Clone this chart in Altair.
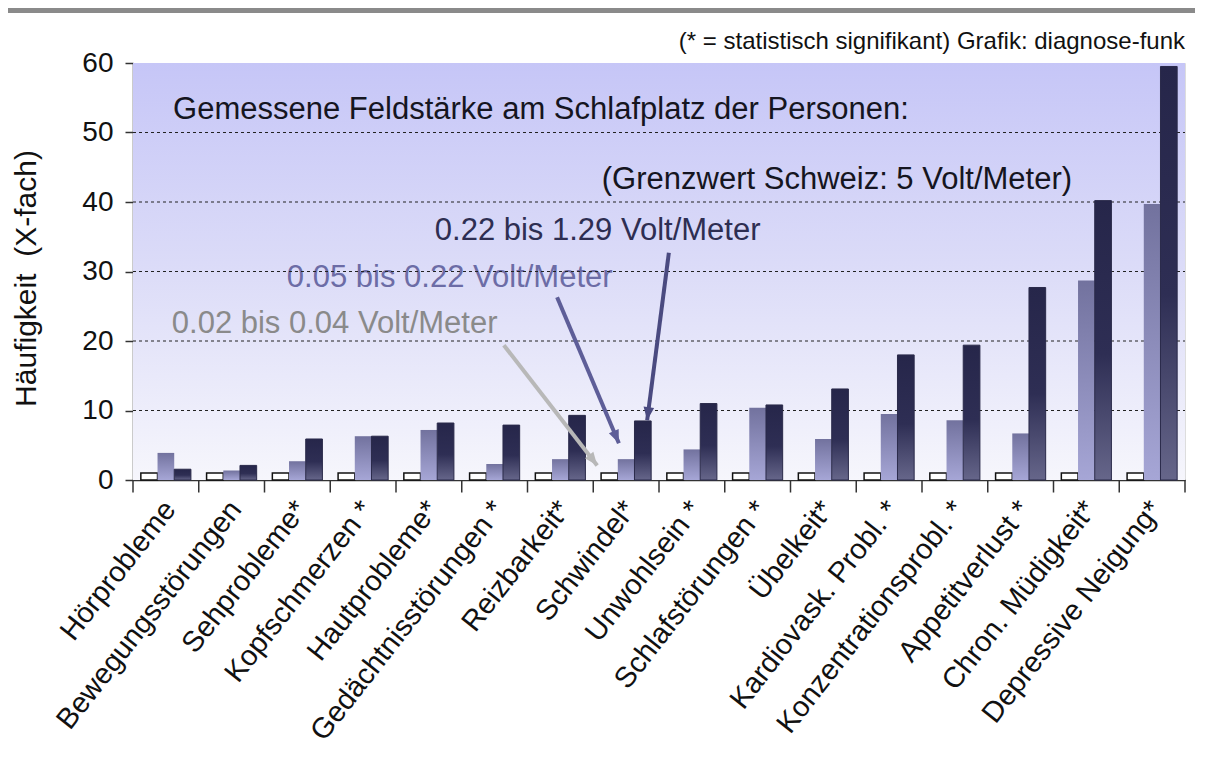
import math
import altair as alt
import pandas as pd

# ---------------- data ----------------
categories = ["Hörprobleme", "Bewegungsstörungen", "Sehprobleme*", "Kopfschmerzen *",
              "Hautprobleme*", "Gedächtnisstörungen *", "Reizbarkeit*", "Schwindel*",
              "Unwohlsein *", "Schlafstörungen *", "Übelkeit*", "Kardiovask. Probl. *",
              "Konzentrationsprobl. *", "Appetitverlust *", "Chron. Müdigkeit*",
              "Depressive Neigung*"]
series = ["0.02 bis 0.04 Volt/Meter", "0.05 bis 0.22 Volt/Meter", "0.22 bis 1.29 Volt/Meter"]
low_vals = [1, 1, 1, 1, 1, 1, 1, 1, 1, 1, 1, 1, 1, 1, 1, 1]
mid_vals = [3.9, 1.35, 2.7, 6.3, 7.2, 2.3, 3.0, 3.0, 4.4, 10.4, 5.9, 9.5, 8.6, 6.7, 28.7, 39.7]
high_vals = [1.55, 2.1, 5.9, 6.3, 8.2, 7.9, 9.3, 8.5, 11.0, 10.8, 13.1, 18.0, 19.4, 27.7, 40.2, 59.5]
y_ticks = [0, 10, 20, 30, 40, 50, 60]
grid_vals = [10, 20, 30, 40, 50]

# annotation texts (position in category units / value units)
note_texts = ["Gemessene Feldstärke am Schlafplatz der Personen:",
              "(Grenzwert Schweiz: 5 Volt/Meter)",
              "0.22 bis 1.29 Volt/Meter",
              "0.05 bis 0.22 Volt/Meter",
              "0.02 bis 0.04 Volt/Meter"]
note_u = [0.61, 7.13, 4.59, 2.34, 0.59]
note_v = [52.0, 41.9, 34.6, 27.8, 21.1]
source_text = "(* = statistisch signifikant) Grafik: diagnose-funk"

# arrows: start (u, v) -> tip (u, v)
arrow_u1 = [8.15, 6.45, 5.64]
arrow_v1 = [32.7, 26.3, 19.4]
arrow_u2 = [7.82, 7.39, 7.06]
arrow_v2 = [8.6, 5.3, 2.1]

# ---------------- layout ----------------
W, H = 1052, 417
N = len(categories)
PX_U = W / N
PX_V = H / 60.0
FONT = "Liberation Sans"

rows = []
for i, c in enumerate(categories):
    rows.append({"cat": c, "series": series[0], "v": low_vals[i]})
    rows.append({"cat": c, "series": series[1], "v": mid_vals[i]})
    rows.append({"cat": c, "series": series[2], "v": high_vals[i]})
df = pd.DataFrame(rows)

yscale = alt.Scale(domain=[0, 60], nice=False, zero=True)
yaxis = alt.Axis(values=y_ticks, grid=False, tickSize=8, tickColor="#333", tickWidth=1.5,
                 domainColor="#333", domainWidth=1.5, labelFontSize=28, labelFont=FONT,
                 labelColor="#111", labelPadding=12, title="Häufigkeit\u00a0\u00a0(X-fach)",
                 titleFont=FONT, titleFontSize=30, titleFontWeight="normal", titleColor="#111",
                 titleAngle=270, titleAlign="center", titleBaseline="alphabetic",
                 titleX=-98, titleY=215)

def Y(field="v"):
    return alt.Y(f"{field}:Q", scale=yscale, axis=yaxis)

uscale = alt.Scale(domain=[0, N], nice=False, zero=False)

def U(field="u"):
    return alt.X(f"{field}:Q", scale=uscale, axis=None)

# page frame (grey band at top)
frame = alt.Chart(pd.DataFrame({"u": [0]})).mark_rect(color="#8a8a8a").encode(
    x=alt.value(-125), x2=alt.value(W + 10), y=alt.value(-55), y2=alt.value(-50))

# background gradient
bg = alt.Chart(pd.DataFrame({"u": [0], "u2": [N], "v": [0], "v2": [60]})).mark_rect(
    fill={"gradient": "linear", "x1": 0, "y1": 0, "x2": 0, "y2": 1,
          "stops": [{"offset": 0, "color": "#c6c6f7"},
                    {"offset": 0.5, "color": "#dcdcf8"},
                    {"offset": 1, "color": "#f6f6fc"}]}
).encode(x=U("u"), x2="u2:Q", y=Y("v"), y2="v2:Q")

grid = alt.Chart(pd.DataFrame({"v": grid_vals})).mark_rule(
    color="#222", strokeWidth=1.2, strokeDash=[3, 3]
).encode(y=Y("v"), x=alt.value(0), x2=alt.value(W))

xscale = alt.Scale(domain=categories, paddingInner=0, paddingOuter=0)
xaxis = alt.Axis(ticks=False, domain=True, domainColor="#333", domainWidth=1.5,
                 labelAngle=-52, labelAlign="right", labelBaseline="middle",
                 labelFontSize=29, labelFont=FONT, labelColor="#111", labelPadding=24,
                 labelOffset=4, labelLimit=400, title=None)
offscale = alt.Scale(domain=series, paddingInner=0, paddingOuter=0.47)

def bars(sname, **mk):
    return alt.Chart(df).transform_filter(alt.datum.series == sname).mark_bar(**mk).encode(
        x=alt.X("cat:N", sort=categories, scale=xscale, axis=xaxis),
        xOffset=alt.XOffset("series:N", scale=offscale, sort=series),
        y=Y("v"),
    )

b_low = bars(series[0], fill="#ffffff", stroke="#111", strokeWidth=1.5)
b_mid = bars(series[1], fill={"gradient": "linear", "x1": 0, "y1": 0, "x2": 0, "y2": 1,
                              "stops": [{"offset": 0, "color": "#72729e"},
                                        {"offset": 1, "color": "#a6a6d6"}]})
b_high = bars(series[2], fill={"gradient": "linear", "x1": 0, "y1": 0, "x2": 0, "y2": 1,
                               "stops": [{"offset": 0, "color": "#26264a"},
                                         {"offset": 0.55, "color": "#2e2e54"},
                                         {"offset": 1, "color": "#66668a"}]},
              stroke="#2a2a4a", strokeWidth=1)
bar_layer = alt.layer(b_low, b_mid, b_high)

# category separator ticks
tk = alt.Chart(pd.DataFrame({"u": list(range(N + 1)), "v": [0] * (N + 1), "v2": [-1.8] * (N + 1)})).mark_rule(
    color="#333", strokeWidth=1.5
).encode(x=U("u"), y=Y("v"), y2="v2:Q")

# arrows
arrow_colors = ["#4a4a80", "#5e5e98", "#b8b8b8"]
arrow_layers = []
for i in range(3):
    d = pd.DataFrame({"u": [arrow_u1[i]], "v": [arrow_v1[i]], "u2": [arrow_u2[i]], "v2": [arrow_v2[i]]})
    arrow_layers.append(alt.Chart(d).mark_rule(color=arrow_colors[i], strokeWidth=4).encode(
        x=U("u"), y=Y("v"), x2="u2:Q", y2="v2:Q"))
    dxp = (arrow_u2[i] - arrow_u1[i]) * PX_U
    dyp = -(arrow_v2[i] - arrow_v1[i]) * PX_V
    ang = math.degrees(math.atan2(dxp, -dyp)) % 360
    head = pd.DataFrame({"u": [arrow_u2[i]], "v": [arrow_v2[i]]})
    arrow_layers.append(alt.Chart(head).mark_point(
        shape="M0,0L-0.65,1.6L0.65,1.6Z", filled=True, fill=arrow_colors[i], strokeWidth=0,
        size=270, angle=ang, opacity=1).encode(x=U("u"), y=Y("v")))

# annotation texts
text_colors = ["#151520", "#151520", "#2e2e52", "#6c6ca6", "#8a8a8a"]
text_layers = []
for i in range(len(note_texts)):
    d = pd.DataFrame({"u": [note_u[i]], "v": [note_v[i]], "t": [note_texts[i]]})
    text_layers.append(alt.Chart(d).mark_text(
        align="left", baseline="alphabetic", font=FONT, fontSize=31, color=text_colors[i]
    ).encode(x=U("u"), y=Y("v"), text="t:N"))

src = alt.Chart(pd.DataFrame({"u": [N], "v": [62.0], "t": [source_text]})).mark_text(
    align="right", baseline="alphabetic", font=FONT, fontSize=24, color="#111"
).encode(x=U("u"), y=Y("v"), text="t:N")

chart = alt.layer(frame, bg, *text_layers, grid, bar_layer, tk, *arrow_layers, src).resolve_scale(
    x="independent"
).properties(
    width=W, height=H,
    autosize=alt.AutoSizeParams(type="none"),
    padding={"left": 125, "top": 55, "right": 10, "bottom": 272},
).configure_view(stroke="#222", strokeWidth=1.5).configure(background="#ffffff")

chart.save("out.html", embed_options={"renderer": "svg", "actions": False})
